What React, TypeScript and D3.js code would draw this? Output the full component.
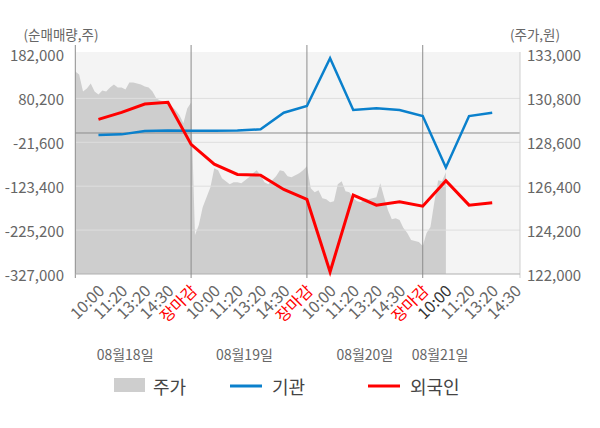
import * as d3 from "d3";

// x categories (one label per slot, slot 0 = market open of day 1)
const timeLabels = [
  "10:00", "11:20", "13:20", "14:30", "장마감",
  "10:00", "11:20", "13:20", "14:30", "장마감",
  "10:00", "11:20", "13:20", "14:30", "장마감",
  "10:00", "11:20", "13:20", "14:30",
];
const dateLabels = ["08월18일", "08월19일", "08월20일", "08월21일"];
const dateLabelSlots = [2.15, 7.3, 12.5, 15.75];
const daySeparators = [5, 10, 15];

// intraday price, 6 samples per slot
const samplesPerSlot = 6;
const price = [
  132150, 132000, 131150, 131300, 131550, 131150, 131000, 131200, 131150, 131350,
  131500, 131350, 131350, 131250, 131600, 131600, 131550, 131500, 131400, 131350,
  131150, 130800, 130700, 130650, 130550, 130400, 130200, 129950, 129550, 130300,
  130600, 123950, 124450, 125350, 125850, 126350, 127300, 127200, 126800, 126650,
  126500, 126600, 126600, 126550, 126700, 126850, 127050, 127200, 126950, 126600,
  126500, 126700, 126900, 127200, 127150, 126900, 126850, 126950, 127050, 127200,
  127400, 126300, 126100, 126200, 125800, 125750, 125600, 125650, 126500, 126650,
  126150, 126100, 125800, 125650, 125600, 125800, 125750, 125800, 125850, 126550,
  125850, 125200, 124750, 124800, 124700, 124300, 124050, 123700, 123650, 123600,
  123400, 124050, 124350, 125600, 126700, 126650, 127100,
];

// net buying at slots 1..18
const institution = [
  -4850, -3200, 4450, 6050, 5150, 4900, 5600, 8400, 46900, 62450,
  173200, 53200, 57150, 53200, 39250, -79800, 39250, 46900,
];
const foreign = [
  31600, 47850, 67100, 71050, -26400, -72150, -96050, -97700, -130850, -154100,
  -322100, -144100, -167300, -159650, -169650, -110900, -167300, -162000,
];

const leftTicks = [182000, 80200, -21600, -123400, -225200, -327000];
const rightTicks = [133000, 130800, 128600, 126400, 124200, 122000];

const W = 600;
const H = 428;
const plot = { left: 75.3, right: 520, top: 54.5, bottom: 274 };
const font = "'Noto Sans CJK KR', 'Noto Sans', sans-serif";

const fmt = d3
  .formatLocale({ decimal: ".", thousands: ",", grouping: [3], currency: ["", ""], minus: "-" })
  .format(",");

export default function App() {
  const x = d3.scaleLinear().domain([0, 19.2]).range([plot.left, plot.right]);
  const yL = d3.scaleLinear().domain([-327000, 182000]).range([plot.bottom, plot.top]);
  const yR = d3.scaleLinear().domain([122000, 133000]).range([plot.bottom, plot.top]);

  const area = d3
    .area<number>()
    .x((_, i) => x(i / samplesPerSlot))
    .y0(plot.bottom)
    .y1((d) => yR(d));

  const line = d3
    .line<number>()
    .x((_, i) => x(i + 1))
    .y((d) => yL(d));

  return (
    <svg width={W} height={H} style={{ position: "absolute", left: 0, top: 0, background: "#fff" }} fontFamily={font}>
      {/* plot background */}
      <rect x={plot.left} y={52} width={plot.right - plot.left} height={plot.bottom - 52} fill="#f4f4f4" />

      {/* stock price area */}
      <path d={area(price) ?? ""} fill="#cecece" />

      {/* grid */}
      {leftTicks.slice(1, -1).map((t) => (
        <line key={t} x1={plot.left} x2={plot.right} y1={yL(t)} y2={yL(t)} stroke="#dedede" strokeWidth={1} />
      ))}
      <line x1={plot.left} x2={plot.right} y1={yL(0)} y2={yL(0)} stroke="#8c8c8c" strokeWidth={1} />

      {/* axes frame */}
      <line x1={plot.left} x2={plot.left} y1={45} y2={278} stroke="#8c8c8c" />
      <line x1={plot.right} x2={plot.right} y1={52} y2={278} stroke="#cfcfcf" />
      <line x1={plot.left} x2={plot.right} y1={plot.bottom} y2={plot.bottom} stroke="#b0b0b0" />
      {daySeparators.map((s) => (
        <line key={s} x1={x(s)} x2={x(s)} y1={45} y2={278} stroke="#8c8c8c" />
      ))}

      {/* series */}
      <path d={line(institution) ?? ""} fill="none" stroke="#0a80cc" strokeWidth={2.5} />
      <path d={line(foreign) ?? ""} fill="none" stroke="#ff0000" strokeWidth={3} />

      {/* left axis */}
      <text x={61} y={34} textAnchor="middle" dominantBaseline="central" fontSize={13.5} fill="#666">
        (순매매량,주)
      </text>
      {leftTicks.map((t) => (
        <text key={t} x={64} y={yL(t)} textAnchor="end" dominantBaseline="central" fontSize={15} fill="#666">
          {fmt(t)}
        </text>
      ))}

      {/* right axis */}
      <text x={535} y={34} textAnchor="middle" dominantBaseline="central" fontSize={13.5} fill="#666">
        (주가,원)
      </text>
      {rightTicks.map((t) => (
        <text key={t} x={527} y={yR(t)} textAnchor="start" dominantBaseline="central" fontSize={15} fill="#666">
          {fmt(t)}
        </text>
      ))}

      {/* x labels */}
      {timeLabels.map((lab, i) => {
        const cx = x(i + 1) + 2;
        const color = lab === "장마감" ? "#ff0000" : i === 15 ? "#333" : "#666";
        return (
          <text
            key={i}
            transform={`translate(${cx},287) rotate(-45)`}
            textAnchor="end"
            dominantBaseline="central"
            fontSize={16}
            fill={color}
          >
            {lab}
          </text>
        );
      })}
      {dateLabels.map((lab, i) => (
        <text key={lab} x={x(dateLabelSlots[i])} y={353.5} textAnchor="middle" dominantBaseline="central" fontSize={14} fill="#666">
          {lab}
        </text>
      ))}

      {/* legend */}
      <rect x={114} y={378} width={31} height={14} fill="#cecece" />
      <text x={153} y={386} dominantBaseline="central" fontSize={18} fill="#444">주가</text>
      <line x1={230} x2={262} y1={386} y2={386} stroke="#0a80cc" strokeWidth={3} />
      <text x={272} y={386} dominantBaseline="central" fontSize={18} fill="#444">기관</text>
      <line x1={368} x2={400} y1={386} y2={386} stroke="#ff0000" strokeWidth={3} />
      <text x={410} y={386} dominantBaseline="central" fontSize={18} fill="#444">외국인</text>
    </svg>
  );
}
